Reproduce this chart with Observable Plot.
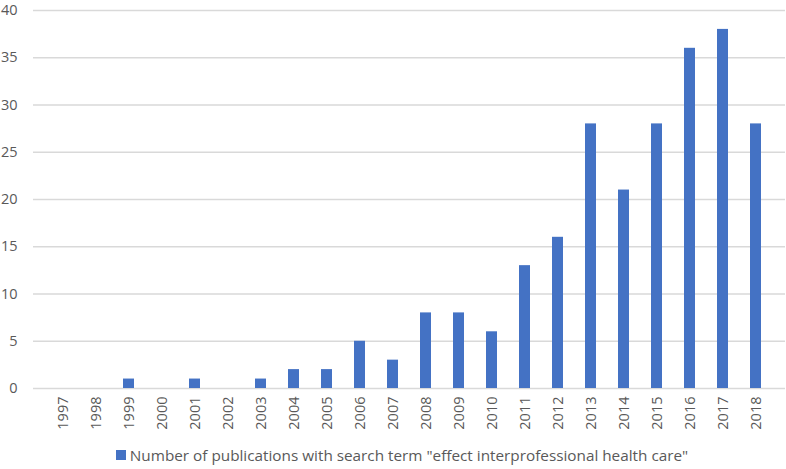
<!DOCTYPE html>
<html>
<head>
<meta charset="utf-8">
<script src="https://cdn.jsdelivr.net/npm/d3@7"></script>
<script src="https://cdn.jsdelivr.net/npm/@observablehq/plot@0.6"></script>
<style>
  body { margin: 0; background: #fff; font-family: "Open Sans", "Liberation Sans", sans-serif; }
  #chart svg { display: block; }
  #chart svg text { font-size: 14.5px !important; fill: #595959; }
  .legend { display: flex; justify-content: center; align-items: center; height: 29px; color: #595959; font-size: 15.3px; }
  .legend .sw { width: 10px; height: 10px; background: #4472C4; margin-right: 4px; margin-top: 1px; }
</style>
</head>
<body>
<div id="chart"></div>
<div class="legend" style="margin-left:18px"><span class="sw"></span><span>Number of publications with search term "effect interprofessional health care"</span></div>
<script>
const years = ["1997","1998","1999","2000","2001","2002","2003","2004","2005","2006","2007","2008","2009","2010","2011","2012","2013","2014","2015","2016","2017","2018"];
const counts = [0,0,1,0,1,0,1,2,2,5,3,8,8,6,13,16,28,21,28,36,38,28];
const yTicks = [0,5,10,15,20,25,30,35,40];
const seriesName = "Number of publications with search term \"effect interprofessional health care\"";

const data = years.map((y, i) => ({year: y, count: counts[i]}));

const chart = Plot.plot({
  width: 786,
  height: 440,
  marginTop: 10,
  marginBottom: 52,
  marginLeft: 33,
  marginRight: 1,
  style: {fontFamily: "'Open Sans', 'Liberation Sans', sans-serif", fontSize: "14px", color: "#595959", background: "#fff"},
  x: {domain: years, padding: 0.68, label: null},
  y: {domain: [0, 40], label: null},
  marks: [
    Plot.ruleY(yTicks, {stroke: "#d9d9d9", strokeWidth: 1.3}),
    Plot.barY(data, {x: "year", y: "count", fill: "#4472C4"}),
    Plot.axisY({ticks: yTicks, tickSize: 0, tickPadding: 16, label: null}),
    Plot.axisX({tickSize: 0, tickRotate: -90, tickPadding: 8, label: null})
  ]
});
document.getElementById("chart").appendChild(chart);
</script>
</body>
</html>
